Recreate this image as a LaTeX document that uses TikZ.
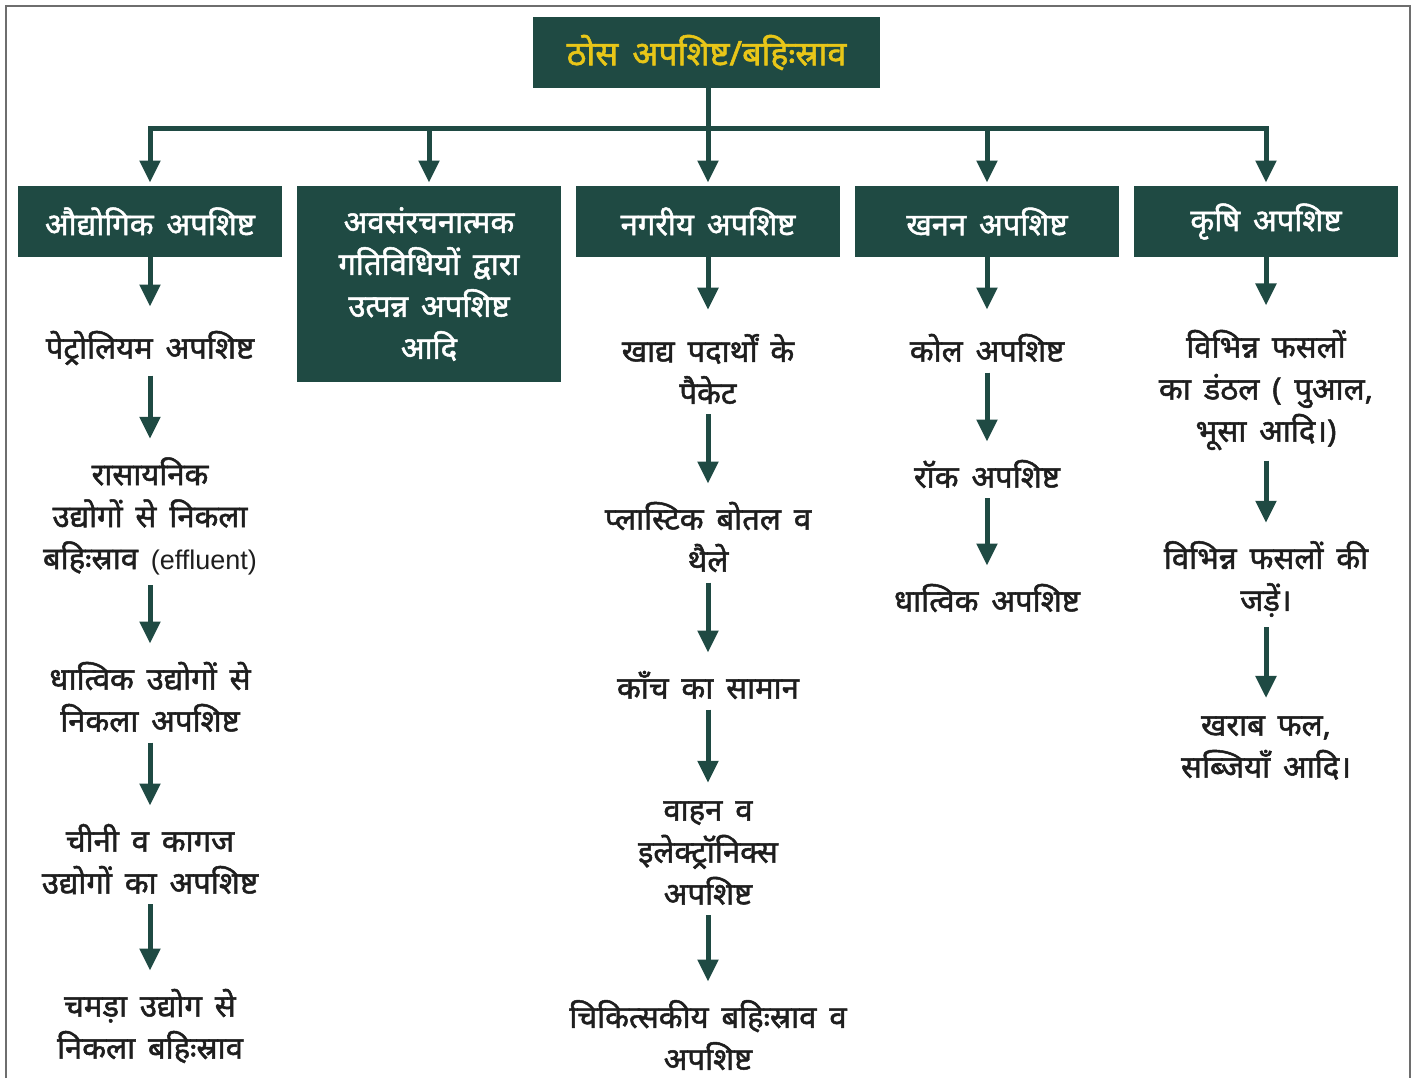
\documentclass[tikz,border=0pt]{standalone}
\usepackage{fontspec}
\setmainfont{Noto Sans}[Script=Devanagari, AutoFakeBold=1.6, WordSpace=1.6]
\newfontfamily\latinfont{Liberation Sans}
\usetikzlibrary{arrows.meta}
\definecolor{boxgreen}{RGB}{31,74,67}
\definecolor{titleyellow}{RGB}{232,198,24}
\definecolor{textgray}{RGB}{30,30,30}
\definecolor{framegray}{RGB}{110,110,110}

\begin{document}
\begin{tikzpicture}[
        x=0.5pt,
        y=-0.5pt,
        every node/.style={font=\fontsize{15.5}{21}\selectfont\bfseries},
        titlebox/.style={
            fill=boxgreen,
            text=titleyellow,
            minimum width=173.5pt,
            minimum height=35.5pt,
            inner sep=0pt,
            font=\fontsize{17}{21}\selectfont\bfseries
        },
        catbox/.style={
            fill=boxgreen,
            text=white,
            minimum width=132pt,
            minimum height=35.5pt,
            inner sep=0pt,
            align=center
        },
        item/.style={
            text=textgray,
            align=center,
            inner sep=0pt
        },
        link/.style={draw=boxgreen, line width=2.5pt},
        flow/.style={
            link,
            -{Triangle[width=10pt,length=11pt]},
            shorten >=9pt
        }
    ]
        \useasboundingbox (0,0) rectangle (1419,1078);

        % Frame: open at the bottom
        \draw[framegray, line width=1pt]
            (6,1078) -- (6,6) -- (1410,6) -- (1410,1078);

        % Title and the five kinds of waste
        \node[titlebox] (top) at (706.5,52.5)
            {ठोस अपशिष्ट/बहिःस्राव};

        \node[catbox] (ind) at (150,221.5) {औद्योगिक अपशिष्ट};
        \node[catbox, minimum height=98pt] (infra) at (429,284)
            {अवसंरचनात्मक\\ गतिविधियों द्वारा\\ उत्पन्न अपशिष्ट\\ आदि};
        \node[catbox] (urban) at (708,221.5) {नगरीय अपशिष्ट};
        \node[catbox] (mine) at (987,221.5) {खनन अपशिष्ट};
        \node[catbox] (agri) at (1266,221.5) {कृषि अपशिष्ट};

        \coordinate (hub) at (708,128);
        \draw[link] (top.south -| hub) -- (hub);
        \foreach \c in {ind,infra,urban,mine,agri}
            \draw[flow, shorten >=1.5pt] (hub) -| (\c.north);

        % Industrial waste, x=150
        \node[item] (petro) at (150,348) {पेट्रोलियम अपशिष्ट};
        \node[item] (chem) at (150,516)
            {रासायनिक\\ उद्योगों से निकला\\ बहिःस्राव
            {\latinfont\mdseries\fontsize{13.5}{21}\selectfont (effluent)}};
        \node[item] (metal) at (150,697)
            {धात्विक उद्योगों से\\ निकला अपशिष्ट};
        \node[item] (paper) at (150,859)
            {चीनी व कागज\\ उद्योगों का अपशिष्ट};
        \node[item] (leather) at (150,1026)
            {चमड़ा उद्योग से\\ निकला बहिःस्राव};

        % Urban waste, x=708
        \node[item] (food) at (708,369)
            {खाद्य पदार्थों के\\ पैकेट};
        \node[item] (plastic) at (708,537)
            {प्लास्टिक बोतल व\\ थैले};
        \node[item] (glass) at (708,685) {काँच का सामान};
        \node[item] (vehicle) at (708,853)
            {वाहन व\\ इलेक्ट्रॉनिक्स\\ अपशिष्ट};
        \node[item] (medical) at (708,1035)
            {चिकित्सकीय बहिःस्राव व\\ अपशिष्ट};

        % Mining waste, x=987
        \node[item] (coal) at (987,348) {कोल अपशिष्ट};
        \node[item] (rock) at (987,474) {रॉक अपशिष्ट};
        \node[item] (ore) at (987,598) {धात्विक अपशिष्ट};

        % Farm waste, x=1266
        \node[item] (stalk) at (1266,390)
            {विभिन्न फसलों\\ का डंठल ( पुआल,\\ भूसा आदि।)};
        \node[item] (roots) at (1266,579)
            {विभिन्न फसलों की\\ जड़ें।};
        \node[item] (fruit) at (1266,748)
            {खराब फल,\\ सब्जियाँ आदि।};

        % Arrows down each column
        \foreach \a/\b in {ind/petro,urban/food,mine/coal,agri/stalk}
            \draw[flow, shorten >=12pt] (\a) -- (\b);
        \foreach \a/\b in {
            petro/chem,chem/metal,metal/paper,paper/leather,
            food/plastic,plastic/glass,glass/vehicle,vehicle/medical,
            coal/rock,rock/ore,stalk/roots,roots/fruit}
            \draw[flow, shorten <=5pt] (\a) -- (\b);
    \end{tikzpicture}
\end{document}
